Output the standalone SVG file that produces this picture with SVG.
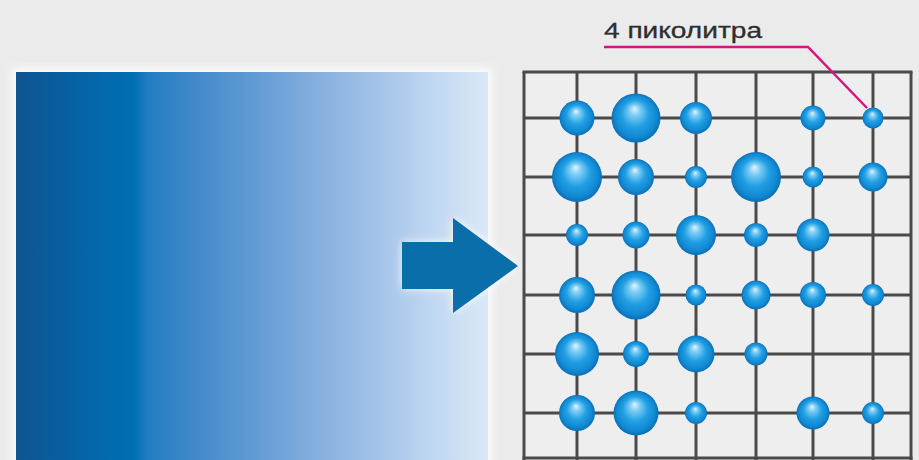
<svg xmlns="http://www.w3.org/2000/svg" width="919" height="460" viewBox="0 0 919 460">
  <defs>
    <linearGradient id="tone" x1="16" y1="0" x2="488" y2="0" gradientUnits="userSpaceOnUse">
      <stop offset="0" stop-color="#0f5590"/>
      <stop offset="0.09" stop-color="#085e9f"/>
      <stop offset="0.25" stop-color="#006fb5"/>
      <stop offset="0.28" stop-color="#237dc3"/>
      <stop offset="0.39" stop-color="#448bcb"/>
      <stop offset="0.52" stop-color="#659dd5"/>
      <stop offset="0.64" stop-color="#86b0df"/>
      <stop offset="0.77" stop-color="#a4c4e9"/>
      <stop offset="0.88" stop-color="#bfd7f1"/>
      <stop offset="1" stop-color="#dae9f7"/>
    </linearGradient>
    <radialGradient id="ball" cx="0.5" cy="0.5" r="0.5" fx="0.47" fy="0.3">
      <stop offset="0" stop-color="#e2f5ff"/>
      <stop offset="0.22" stop-color="#7fcdf4"/>
      <stop offset="0.55" stop-color="#22a0e4"/>
      <stop offset="0.85" stop-color="#1088d2"/>
      <stop offset="1" stop-color="#0b6fb4"/>
    </radialGradient>
    <filter id="glow" x="-20%" y="-20%" width="140%" height="140%">
      <feGaussianBlur stdDeviation="4"/>
    </filter>
    <style>
      .grid line { stroke: #4a4a4a; stroke-width: 3; }
      .dot { fill: url(#ball); }
      .label { font-family: "Liberation Sans", Arial, sans-serif; font-size: 22px; fill: #2e2e2e; stroke: #2e2e2e; stroke-width: 0.3; }
      .leader { fill: none; stroke: #d4157e; stroke-width: 2.5; }
    </style>
  </defs>

  <rect width="919" height="460" fill="#ebebeb"/>

  <g id="tone-panel">
    <rect x="12" y="68" width="480" height="400" fill="#ffffff" opacity="0.8" filter="url(#glow)"/>
    <rect x="16" y="72" width="472" height="392" fill="url(#tone)"/>
  </g>

  <g id="arrow">
    <polygon points="402,242 453,242 453,218 518,266 453,313 453,289 402,289" fill="#ffffff" opacity="0.9" filter="url(#glow)"/>
    <polygon points="402,242 453,242 453,218 518,266 453,313 453,289 402,289" fill="#0a6eaa"/>
  </g>

  <g id="grid" class="grid">
    <rect x="524" y="72" width="387" height="386" fill="#eeeeee"/>
    <line x1="524" y1="72" x2="524" y2="460"/>
    <line x1="577" y1="72" x2="577" y2="460"/>
    <line x1="636" y1="72" x2="636" y2="460"/>
    <line x1="696" y1="72" x2="696" y2="460"/>
    <line x1="756" y1="72" x2="756" y2="460"/>
    <line x1="813" y1="72" x2="813" y2="460"/>
    <line x1="873" y1="72" x2="873" y2="460"/>
    <line x1="911" y1="72" x2="911" y2="460"/>
    <line x1="522.5" y1="72" x2="912.5" y2="72"/>
    <line x1="524" y1="118" x2="911" y2="118"/>
    <line x1="524" y1="177" x2="911" y2="177"/>
    <line x1="524" y1="235" x2="911" y2="235"/>
    <line x1="524" y1="295" x2="911" y2="295"/>
    <line x1="524" y1="354" x2="911" y2="354"/>
    <line x1="524" y1="413" x2="911" y2="413"/>
    <line x1="522.5" y1="458" x2="912.5" y2="458"/>
  </g>

  <g id="droplets">
    <circle class="dot" cx="577" cy="118" r="17.5"/>
    <circle class="dot" cx="636" cy="118" r="24.5"/>
    <circle class="dot" cx="696" cy="118" r="16"/>
    <circle class="dot" cx="813" cy="118" r="12.5"/>
    <circle class="dot" cx="873" cy="118" r="10.5"/>
    <circle class="dot" cx="577" cy="177" r="25"/>
    <circle class="dot" cx="636" cy="177" r="18"/>
    <circle class="dot" cx="696" cy="177" r="11"/>
    <circle class="dot" cx="756" cy="177" r="25"/>
    <circle class="dot" cx="813" cy="177" r="10.5"/>
    <circle class="dot" cx="873" cy="177" r="14.5"/>
    <circle class="dot" cx="577" cy="235" r="11"/>
    <circle class="dot" cx="636" cy="235" r="13.5"/>
    <circle class="dot" cx="696" cy="235" r="20"/>
    <circle class="dot" cx="756" cy="235" r="12"/>
    <circle class="dot" cx="813" cy="235" r="16.5"/>
    <circle class="dot" cx="577" cy="295" r="18"/>
    <circle class="dot" cx="636" cy="295" r="24.5"/>
    <circle class="dot" cx="696" cy="295" r="10.5"/>
    <circle class="dot" cx="756" cy="295" r="14.5"/>
    <circle class="dot" cx="813" cy="295" r="13"/>
    <circle class="dot" cx="873" cy="295" r="11"/>
    <circle class="dot" cx="577" cy="354" r="22"/>
    <circle class="dot" cx="636" cy="354" r="13"/>
    <circle class="dot" cx="696" cy="354" r="18.5"/>
    <circle class="dot" cx="756" cy="354" r="11.5"/>
    <circle class="dot" cx="577" cy="413" r="18"/>
    <circle class="dot" cx="636" cy="413" r="22.5"/>
    <circle class="dot" cx="696" cy="413" r="11"/>
    <circle class="dot" cx="813" cy="413" r="16.5"/>
    <circle class="dot" cx="873" cy="413" r="11"/>
  </g>

  <g id="label">
    <text class="label" x="604" y="38" textLength="158" lengthAdjust="spacingAndGlyphs">4 пиколитра</text>
  </g>

  <g id="connectors">
    <polyline class="leader" points="604,47 808,47 867,108"/>
  </g>
</svg>
